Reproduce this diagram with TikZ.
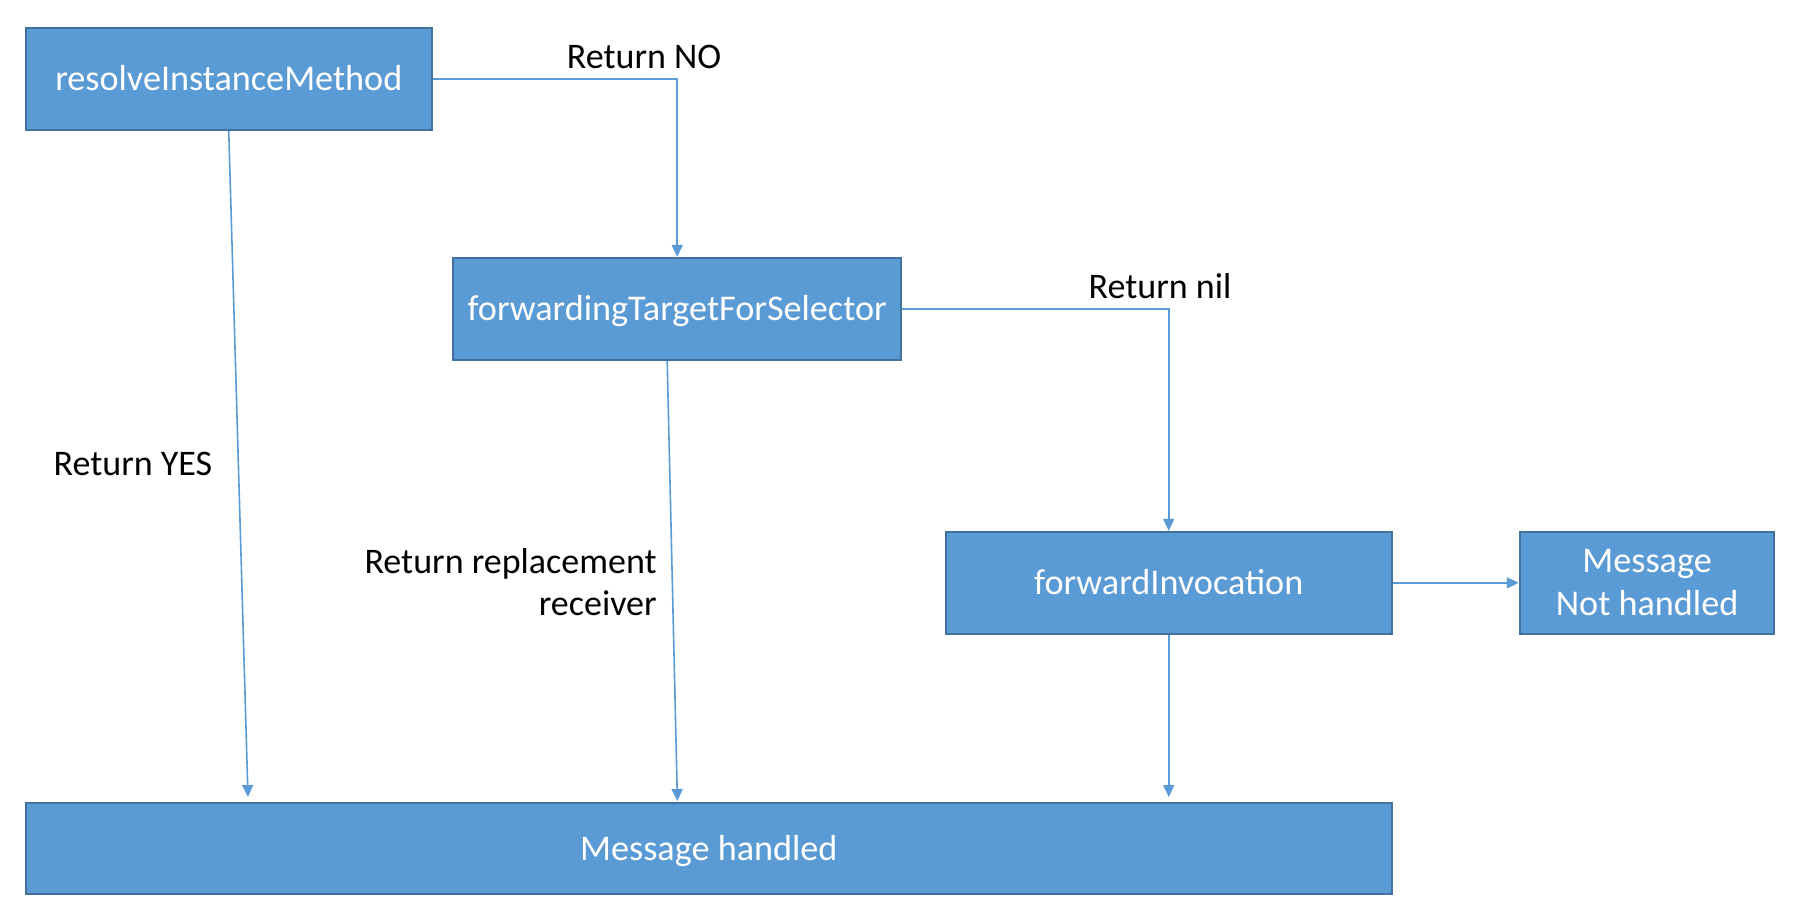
\documentclass[tikz,border=0pt]{standalone}
\usepackage{fontspec}
\setmainfont{Carlito}
\usetikzlibrary{arrows.meta,calc}
\definecolor{boxfill}{HTML}{5B9BD5}
\definecolor{boxline}{HTML}{41719C}
\definecolor{connc}{HTML}{5B9BD5}
\begin{document}
\begin{tikzpicture}[x=0.5pt,y=-0.5pt,
  box/.style={draw=boxline, line width=1pt, fill=boxfill, text=white,
    font=\fontsize{18.1}{21.5}\selectfont, inner sep=0pt, align=center},
  one/.style={text height=11.6pt, text depth=0pt},
  conn/.style={draw=connc, line width=0.8pt, -{Triangle[length=6pt,width=5.5pt]}},
  lbl/.style={font=\fontsize{18}{21}\selectfont, inner sep=0pt, anchor=base}]
\useasboundingbox (0,0) rectangle (1806,918);
\node[box, one, minimum width=203pt, minimum height=51pt] (resolve) at (228.75,78.85) {resolveInstanceMethod};
\node[box, one, minimum width=223.8pt, minimum height=51pt] (fwd) at (677.2,308.85) {forwardingTargetForSelector};
\node[box, one, minimum width=223.25pt, minimum height=51pt] (fi) at (1168.75,582.85) {forwardInvocation};
\node[box, minimum width=127.3pt, minimum height=51pt] (mnh) at (1647.1,582.85) {Message\\Not handled};
\node[box, one, minimum width=683.15pt, minimum height=45.3pt] (mh) at (708.85,848.65) {Message handled};
\coordinate (e1) at (248,797);
\coordinate (e2) at (677.4,801);
\coordinate (e3) at (1168.75,797);
\draw[conn] (resolve.east) -| (fwd.north);
\draw[conn] (fwd.east) -| (fi.north);
\draw[conn] (fi.east) -- (mnh.west);
\draw[conn] (resolve.south) -- (e1);
\draw[conn] ($(fwd.south)+(-10,0)$) -- (e2);
\draw[conn] (fi.south) -- (e3);
\node[lbl] (lno) at (644,68) {Return NO};
\node[lbl] (lnil) at (1160,298) {Return nil};
\node[lbl] (lyes) at (133,475) {Return YES};
\node[lbl, anchor=base east, align=right] (lrep) at (657,615) {Return replacement\\receiver};
\end{tikzpicture}
\end{document}
